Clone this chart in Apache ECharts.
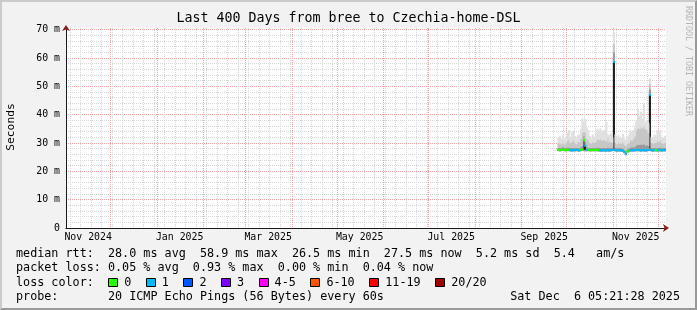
<!DOCTYPE html>
<html><head><meta charset="utf-8">
<script src="https://cdn.jsdelivr.net/npm/echarts@6/dist/echarts.min.js"></script>
<style>
html,body{margin:0;padding:0;background:#f2f2f2;}
#wrap{position:relative;width:697px;height:310px;}
#c{width:697px;height:310px;}
#frame{position:absolute;left:0;top:0;width:697px;height:310px;box-sizing:border-box;border-top:2px solid #cbcbcb;border-left:2px solid #cbcbcb;border-right:2px solid #999;border-bottom:2px solid #999;pointer-events:none;}
</style></head><body>
<div id="wrap"><div id="c"></div><div id="frame"></div></div>
<script>
// ---- data (one entry per day, starting 2025-09-25) ----
const firstDay = [2025, 8, 25];
const median = [27.6,27.5,27.6,27.7,27.6,27.5,27.6,27.6,
 27.5,27.4,27.5,27.5,27.6,27.5,27.4,27.6,
 27.7,31.0,29.0,27.6,
 27.6,27.5,27.5,27.6,27.5,27.6,27.5,27.5,
 27.4,27.4,27.5,27.4,27.4,27.5,27.4,27.5,27.6,
 58.6,
 27.5,27.4,27.5,27.4,27.4,27.3,
 26.8,26.1,27.0,27.3,
 27.4,27.5,27.4,27.5,27.5,27.6,27.5,27.4,27.5,27.5,27.4,27.5,27.6,
 47.0,
 27.5,27.4,27.5,27.5,27.4,27.5,27.5,27.4,27.5,27.5];
const lossCount = [0,0,0,0,0,0,0,0,
 1,1,1,1,1,1,1,0,
 0,0,1,1,
 0,0,0,0,0,0,0,0,
 1,1,1,1,1,1,1,1,1,
 1,
 1,1,1,1,1,1,
 1,1,0,0,
 1,1,1,1,1,1,1,1,1,1,1,1,1,
 1,
 1,1,1,0,0,1,1,1,1,1];
const smokeMin = [27.1,27.0,27.1,27.2,27.1,27.0,27.1,27.1,
 27.0,26.9,27.0,27.0,27.1,27.0,26.9,27.1,
 27.2,27.1,27.0,27.1,
 27.1,27.0,27.0,27.1,27.0,27.1,27.0,27.0,
 26.9,26.9,27.0,26.9,26.9,27.0,26.9,27.0,27.1,
 27.2,
 27.0,26.9,27.0,26.9,26.9,26.8,
 26.4,25.7,26.5,26.8,
 26.9,27.0,26.9,27.0,27.0,27.1,27.0,26.9,27.0,27.0,26.9,27.0,27.1,
 27.2,
 27.0,26.9,27.0,27.0,26.9,27.0,27.0,26.9,27.0,27.0];
const smokeP25 = [27.4,27.3,27.4,27.5,27.4,27.3,27.4,27.4,
 27.3,27.2,27.3,27.3,27.4,27.3,27.2,27.4,
 27.5,27.6,27.6,27.4,
 27.4,27.3,27.3,27.4,27.3,27.4,27.3,27.3,
 27.2,27.2,27.3,27.2,27.2,27.3,27.2,27.3,27.4,
 28.0,
 27.3,27.2,27.3,27.2,27.2,27.1,
 26.6,25.9,26.8,27.1,
 27.2,27.3,27.2,27.3,27.3,27.4,27.3,27.2,27.3,27.3,27.2,27.3,27.4,
 28.0,
 27.3,27.2,27.3,27.3,27.2,27.3,27.3,27.2,27.3,27.3];
const smokeP75 = [28.4,28.3,28.4,28.6,28.4,28.3,28.5,28.5,
 28.3,28.3,28.4,28.3,28.4,28.3,28.2,28.6,
 29.0,32.5,30.5,28.6,
 28.4,28.3,28.3,28.4,28.3,28.5,28.4,28.5,
 28.3,28.3,28.4,28.3,28.3,28.5,28.3,28.4,28.4,
 62.0,
 28.3,28.2,28.4,28.2,28.3,28.1,
 27.8,27.2,27.9,28.2,
 28.4,28.6,28.5,28.8,29.2,29.5,29.3,29.6,29.4,29.8,29.2,29.4,29.0,
 49.0,
 28.3,28.2,28.4,28.3,28.4,28.3,28.5,28.2,28.3,28.3];
const smokeP90 = [29.8,30.2,29.6,30.4,29.5,30.0,30.8,31.2,
 30.0,30.6,31.0,30.2,29.6,30.4,30.5,31.5,
 33.5,34.0,33.8,31.5,
 31.0,30.2,29.8,30.4,30.0,30.6,31.5,31.0,
 31.6,30.8,31.2,31.0,30.6,31.8,30.4,30.6,30.0,
 65.0,
 30.2,29.6,30.2,29.9,29.8,30.4,
 29.5,29.0,29.8,30.2,
 31.2,30.8,31.5,32.4,34.5,35.5,35.0,35.8,35.2,36.0,35.0,34.8,33.5,
 51.0,
 30.0,29.8,30.2,30.0,31.0,30.5,31.2,30.0,29.8,30.2];
const smokeMax = [31.8,32.5,31.5,32.8,31.2,32.0,33.5,34.6,
 32.0,33.8,34.2,32.5,31.5,32.8,33.0,35.0,
 38.7,37.5,38.5,35.5,
 34.6,32.5,31.8,33.0,32.2,33.5,35.0,34.2,
 35.2,33.8,34.5,34.6,37.5,33.0,32.8,33.5,32.0,
 69.3,
 33.0,31.5,32.8,32.0,31.8,33.2,
 31.5,31.0,32.2,33.0,
 34.6,33.8,34.6,35.5,38.0,42.2,39.5,41.0,38.5,44.0,37.4,38.0,37.0,
 52.8,
 32.2,31.8,33.0,32.5,34.6,33.5,34.6,32.0,31.8,32.5];

const yMajorTicks = [0,10,20,30,40,50,60,70];
const lossLabels = ['0','1','2','3','4-5','6-10','11-19','20/20'];
const lossColors = ['#26ff00','#00b8ff','#0059ff','#7e00ff','#ff00ff','#ff5500','#ff0000','#a00000'];
const lossLimits = [0,1,2,3,5,10,19,20];
const legendRows = [
 'median rtt:  28.0 ms avg  58.9 ms max  26.5 ms min  27.5 ms now  5.2 ms sd  5.4   am/s',
 'packet loss: 0.05 % avg  0.93 % max  0.00 % min  0.04 % now',
 'loss color:',
 'probe:       20 ICMP Echo Pings (56 Bytes) every 60s'
];
const titleText = 'Last 400 Days from bree to Czechia-home-DSL';
const stampText = 'Sat Dec  6 05:21:28 2025';
const MONTHS = ['Jan','Feb','Mar','Apr','May','Jun','Jul','Aug','Sep','Oct','Nov','Dec'];

// ---- time frame ----
const DAY = 86400000;
const T1 = Date.UTC(2025, 11, 6, 5, 21, 28);
const T0 = T1 - 400 * DAY;
const monthStarts = [];
for (let k = 0; k < 14; k++) { const v = Date.UTC(2024, 10 + k, 1); if (v > T0 && v < T1) monthStarts.push(v); }
const weekStarts = [];
for (let v = Date.UTC(2024, 10, 4); v < T1; v += 7 * DAY) weekStarts.push(v);
const labelDays = [];
for (let k = 0; k < 14; k += 2) { const v = Date.UTC(2024, 10 + k, 16); if (v < T1) labelDays.push(v); }
const yMinor = []; for (let v = 2; v <= 70; v += 2) yMinor.push(v);

const tx = median.map((_, i) => Date.UTC(firstDay[0], firstDay[1], firstDay[2] + i, 12));
const HALF = 0.36;
function lossColor(n) { for (let k = 0; k < lossLimits.length; k++) if (n <= lossLimits[k]) return lossColors[k]; return lossColors[7]; }

function renderBand(params, api) {
  const x = api.value(0), lo = api.value(1), hi = api.value(2);
  const a = api.coord([x, lo]), b = api.coord([x, hi]);
  const w = api.size([DAY, 0])[0] + 0.6;
  return { type: 'rect', shape: { x: a[0] - w / 2, y: b[1], width: w, height: Math.max(a[1] - b[1], 0) },
    style: { fill: api.visual('color') } };
}
function band(loArr, hiArr, color) {
  return { type: 'custom', renderItem: renderBand, silent: true, animation: false,
    encode: { x: 0, y: [1, 2] }, itemStyle: { color: color },
    data: tx.map((x, i) => [x, loArr[i], hiArr[i]]) };
}
const medLo = median.map(v => +(v - HALF).toFixed(3));
const medHi = median.map(v => +(v + HALF).toFixed(3));
const medianSeries = band(medLo, medHi, '#00b8ff');
medianSeries.data = tx.map((x, i) => ({ value: [x, medLo[i], medHi[i]], itemStyle: { color: lossColor(lossCount[i]) } }));
const series = [
  band(smokeMin, smokeP25, '#a0a0a0'),
  band(smokeP25, median, '#1c1c1c'),
  band(median, smokeP75, '#9a9a9a'),
  band(smokeP75, smokeP90, '#c6c6c6'),
  band(smokeP90, smokeMax, '#e0e0e0'),
  medianSeries
];

const MONO = '"DejaVu Sans Mono", monospace';
const FS = 11.75, CW = 7.095;
const rowY = [254, 268, 282.5, 296.5];
const graphics = [];
function txt(text, x, y, opts) {
  graphics.push(Object.assign({ type: 'text', x: x, y: y, silent: true,
    style: Object.assign({ text: text, fontFamily: MONO, fontSize: FS, fill: '#000', verticalAlign: 'middle', align: 'left' }, opts && opts.style || {}) },
    opts && opts.rotation !== undefined ? { rotation: opts.rotation } : {}));
}
legendRows.forEach((r, k) => txt(r, 16, rowY[k]));
txt(stampText, 680, rowY[3], { style: { align: 'right' } });
txt(titleText, 348.5, 19, { style: { align: 'center', fontSize: 13.3 } });
txt('Seconds', 11, 127, { rotation: Math.PI / 2, style: { align: 'center', fontSize: 11.3 } });
txt('RRDTOOL / TOBI OETIKER', 688, 61, { rotation: -Math.PI / 2, style: { align: 'center', fontSize: 8.3, fill: '#b4b4b4' } });
let bx = 16 + 13 * CW;
lossLabels.forEach((lab, k) => {
  graphics.push({ type: 'rect', silent: true, shape: { x: Math.round(bx) + 0.5, y: 278.5, width: 9, height: 8 },
    style: { fill: lossColors[k], stroke: '#000', lineWidth: 1 } });
  txt(lab, bx + 16, rowY[2]);
  bx = bx + 16 + lab.length * CW + 14.5;
});

const fmtMonth = v => { const d = new Date(v); return MONTHS[d.getUTCMonth()] + ' ' + d.getUTCFullYear(); };
const gridDash = [1, 1];
const option = {
  backgroundColor: '#f2f2f2',
  animation: false,
  grid: { left: 66, top: 28, width: 600, height: 200, show: true, backgroundColor: '#ffffff', borderWidth: 0 },
  xAxis: [
    { type: 'value', min: T0, max: T1, position: 'bottom',
      axisLine: { show: true, onZero: false, symbol: ['none', 'arrow'], symbolSize: [6, 6], symbolOffset: [0, 3], lineStyle: { color: '#8b1a1a', width: 1 } },
      axisTick: { show: false, customValues: weekStarts }, axisLabel: { show: false },
      splitLine: { show: true, customValues: weekStarts, lineStyle: { color: '#d6d6d6', type: gridDash, width: 1 } } },
    { type: 'value', min: T0, max: T1, position: 'bottom',
      axisLine: { show: true, onZero: false, lineStyle: { color: '#1a1a1a', width: 1 } },
      axisTick: { show: false, customValues: monthStarts },
      axisLabel: { show: true, customValues: labelDays, formatter: fmtMonth, margin: 4, fontFamily: MONO, fontSize: 9.9, color: '#000' },
      splitLine: { show: true, customValues: monthStarts, lineStyle: { color: '#f4a4a4', type: gridDash, width: 1 } } }
  ],
  yAxis: [
    { type: 'value', min: 0, max: 70.6, position: 'left',
      axisLine: { show: true, onZero: false, symbol: ['none', 'arrow'], symbolSize: [6, 6], symbolOffset: [0, 3], lineStyle: { color: '#8b1a1a', width: 1 } },
      axisTick: { show: false, customValues: yMinor }, axisLabel: { show: false },
      splitLine: { show: true, customValues: yMinor, lineStyle: { color: '#d6d6d6', type: gridDash, width: 1 } } },
    { type: 'value', min: 0, max: 70.6, position: 'left',
      axisLine: { show: true, onZero: false, lineStyle: { color: '#1a1a1a', width: 1 } },
      axisTick: { show: false, customValues: yMajorTicks.slice(1) },
      axisLabel: { show: true, customValues: yMajorTicks, formatter: v => v === 0 ? '0' : v + ' m', margin: 6, fontFamily: MONO, fontSize: 9.9, color: '#000' },
      splitLine: { show: true, customValues: yMajorTicks.slice(1), lineStyle: { color: '#f4a4a4', type: gridDash, width: 1 } } }
  ],
  series: series,
  graphic: graphics
};
const chart = echarts.init(document.getElementById('c'), null, { renderer: 'canvas' });
chart.setOption(option);
</script>
</body></html>
